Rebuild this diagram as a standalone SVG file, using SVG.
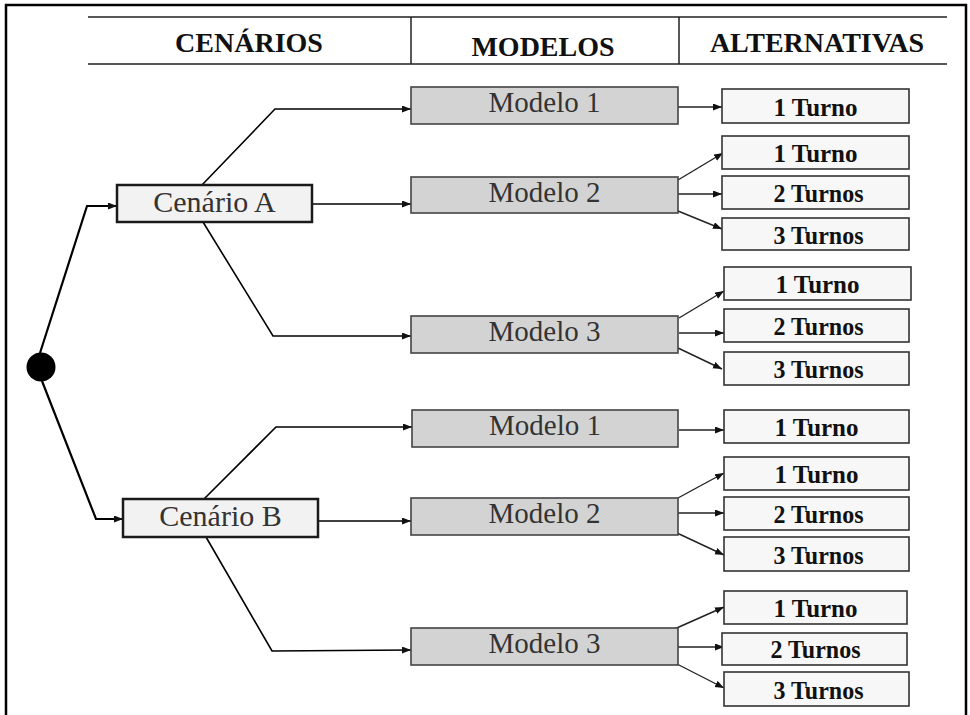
<svg xmlns="http://www.w3.org/2000/svg" width="970" height="715" viewBox="0 0 970 715">
<style>
.frame{stroke:#000;stroke-width:2.5;fill:none}
.hdr{stroke:#222;stroke-width:1.5;fill:none}
.htxt{font-family:"Liberation Serif","Times New Roman",serif;font-weight:bold;font-size:28px;fill:#111;text-anchor:middle}
.cen rect{fill:#f2f2f2;stroke:#1a1a1a;stroke-width:2.5}
.mod rect{fill:#d3d3d3;stroke:#444;stroke-width:1.6}
.alt rect{fill:#f7f7f7;stroke:#333;stroke-width:1.6}
.ntxt{font-family:"Liberation Serif","Times New Roman",serif;font-size:29px;fill:#333;text-anchor:middle}
.cen .ntxt{font-size:30px}
.atxt{font-family:"Liberation Serif","Times New Roman",serif;font-weight:bold;font-size:26px;fill:#111;text-anchor:middle}
.c1{stroke:#000;stroke-width:2.2;fill:none}
.c2{stroke:#000;stroke-width:1.6;fill:none}
.c3{stroke:#222;stroke-width:1.4;fill:none}
</style>
<defs>
<marker id="ah" markerUnits="userSpaceOnUse" markerWidth="10" markerHeight="8" refX="9" refY="3.5" orient="auto">
<path d="M0,0 L9,3.5 L0,7 z" fill="#111"/>
</marker>
</defs>
<rect width="970" height="715" fill="#fff"/>
<g id="frame">
<path class="frame" d="M6,715 V5 H966 V715"/>
</g>
<g id="header">
<path class="hdr" d="M88,17 H947 M88,64 H947 M411,17 V64 M679,17 V64"/>
<text class="htxt" x="249" y="52">CENÁRIOS</text>
<text class="htxt" x="543" y="56">MODELOS</text>
<text class="htxt" x="817" y="52">ALTERNATIVAS</text>
</g>
<g id="connectors">
<polyline class="c1" points="40,353 87,206 117,206" marker-end="url(#ah)"/>
<polyline class="c1" points="42,381 96,519 123,519" marker-end="url(#ah)"/>
<polyline class="c2" points="202,185 275,109 411,109" marker-end="url(#ah)"/>
<line class="c2" x1="312" y1="204" x2="411" y2="204" marker-end="url(#ah)"/>
<polyline class="c2" points="203,222 273,336 411,336" marker-end="url(#ah)"/>
<polyline class="c2" points="204,499 276,427 412,427" marker-end="url(#ah)"/>
<line class="c2" x1="316" y1="521" x2="411" y2="521" marker-end="url(#ah)"/>
<polyline class="c2" points="206,537 272,651 411,650" marker-end="url(#ah)"/>
<line class="c3" x1="678" y1="107" x2="722" y2="107" marker-end="url(#ah)"/>
<line class="c3" x1="678" y1="180" x2="723" y2="153" marker-end="url(#ah)"/>
<line class="c3" x1="678" y1="194" x2="722" y2="194" marker-end="url(#ah)"/>
<line class="c3" x1="678" y1="211" x2="722" y2="229" marker-end="url(#ah)"/>
<line class="c3" x1="679" y1="318" x2="724" y2="291" marker-end="url(#ah)"/>
<line class="c3" x1="679" y1="333" x2="724" y2="333" marker-end="url(#ah)"/>
<line class="c3" x1="678" y1="348" x2="722" y2="369" marker-end="url(#ah)"/>
<line class="c3" x1="679" y1="430" x2="724" y2="430" marker-end="url(#ah)"/>
<line class="c3" x1="678" y1="498" x2="724" y2="473" marker-end="url(#ah)"/>
<line class="c3" x1="678" y1="513" x2="724" y2="513" marker-end="url(#ah)"/>
<line class="c3" x1="677" y1="533" x2="724" y2="555" marker-end="url(#ah)"/>
<line class="c3" x1="670" y1="631" x2="724" y2="607" marker-end="url(#ah)"/>
<line class="c3" x1="677" y1="647" x2="724" y2="647" marker-end="url(#ah)"/>
<line class="c3" x1="677" y1="664" x2="724" y2="688" marker-end="url(#ah)"/>
</g>
<g id="root"><circle cx="41" cy="367" r="14.5" fill="#000"/></g>
<g id="cenarioA" class="cen"><rect x="117" y="185" width="195" height="37"/><text class="ntxt" x="214.5" y="212">Cenário A</text></g>
<g id="cenarioB" class="cen"><rect x="123" y="499" width="195" height="38"/><text class="ntxt" x="220.5" y="526">Cenário B</text></g>
<g id="A_modelo1" class="mod"><rect x="411" y="87" width="267" height="37"/><text class="ntxt" x="544.5" y="112">Modelo 1</text></g>
<g id="A_modelo2" class="mod"><rect x="411" y="177" width="267" height="36"/><text class="ntxt" x="544.5" y="202">Modelo 2</text></g>
<g id="A_modelo3" class="mod"><rect x="411" y="316" width="267" height="37"/><text class="ntxt" x="544.5" y="341">Modelo 3</text></g>
<g id="B_modelo1" class="mod"><rect x="412" y="410" width="266" height="37"/><text class="ntxt" x="545" y="435">Modelo 1</text></g>
<g id="B_modelo2" class="mod"><rect x="411" y="498" width="267" height="37"/><text class="ntxt" x="544.5" y="523">Modelo 2</text></g>
<g id="B_modelo3" class="mod"><rect x="411" y="628" width="267" height="37"/><text class="ntxt" x="544.5" y="653">Modelo 3</text></g>
<g id="A1_t1" class="alt"><rect x="722" y="89" width="187" height="34"/><text class="atxt" x="815.5" y="116" textLength="84" lengthAdjust="spacingAndGlyphs">1 Turno</text></g>
<g id="A2_t1" class="alt"><rect x="722" y="136" width="187" height="33"/><text class="atxt" x="815.5" y="162" textLength="84" lengthAdjust="spacingAndGlyphs">1 Turno</text></g>
<g id="A2_t2" class="alt"><rect x="722" y="176" width="187" height="33"/><text class="atxt" x="818.5" y="202" textLength="90" lengthAdjust="spacingAndGlyphs">2 Turnos</text></g>
<g id="A2_t3" class="alt"><rect x="722" y="218" width="187" height="32"/><text class="atxt" x="818.5" y="244" textLength="90" lengthAdjust="spacingAndGlyphs">3 Turnos</text></g>
<g id="A3_t1" class="alt"><rect x="724" y="267" width="187" height="33"/><text class="atxt" x="817.5" y="293" textLength="84" lengthAdjust="spacingAndGlyphs">1 Turno</text></g>
<g id="A3_t2" class="alt"><rect x="724" y="309" width="185" height="33"/><text class="atxt" x="818.5" y="335" textLength="90" lengthAdjust="spacingAndGlyphs">2 Turnos</text></g>
<g id="A3_t3" class="alt"><rect x="724" y="352" width="185" height="33"/><text class="atxt" x="818.5" y="378" textLength="90" lengthAdjust="spacingAndGlyphs">3 Turnos</text></g>
<g id="B1_t1" class="alt"><rect x="724" y="410" width="185" height="33"/><text class="atxt" x="816.5" y="436" textLength="84" lengthAdjust="spacingAndGlyphs">1 Turno</text></g>
<g id="B2_t1" class="alt"><rect x="724" y="457" width="185" height="33"/><text class="atxt" x="816.5" y="483" textLength="84" lengthAdjust="spacingAndGlyphs">1 Turno</text></g>
<g id="B2_t2" class="alt"><rect x="724" y="497" width="185" height="33"/><text class="atxt" x="818.5" y="523" textLength="90" lengthAdjust="spacingAndGlyphs">2 Turnos</text></g>
<g id="B2_t3" class="alt"><rect x="724" y="537" width="185" height="34"/><text class="atxt" x="818.5" y="564" textLength="90" lengthAdjust="spacingAndGlyphs">3 Turnos</text></g>
<g id="B3_t1" class="alt"><rect x="724" y="591" width="183" height="33"/><text class="atxt" x="815.5" y="617" textLength="84" lengthAdjust="spacingAndGlyphs">1 Turno</text></g>
<g id="B3_t2" class="alt"><rect x="722" y="633" width="185" height="32"/><text class="atxt" x="815.5" y="658" textLength="90" lengthAdjust="spacingAndGlyphs">2 Turnos</text></g>
<g id="B3_t3" class="alt"><rect x="724" y="672" width="185" height="34"/><text class="atxt" x="818.5" y="699" textLength="90" lengthAdjust="spacingAndGlyphs">3 Turnos</text></g>
</svg>
